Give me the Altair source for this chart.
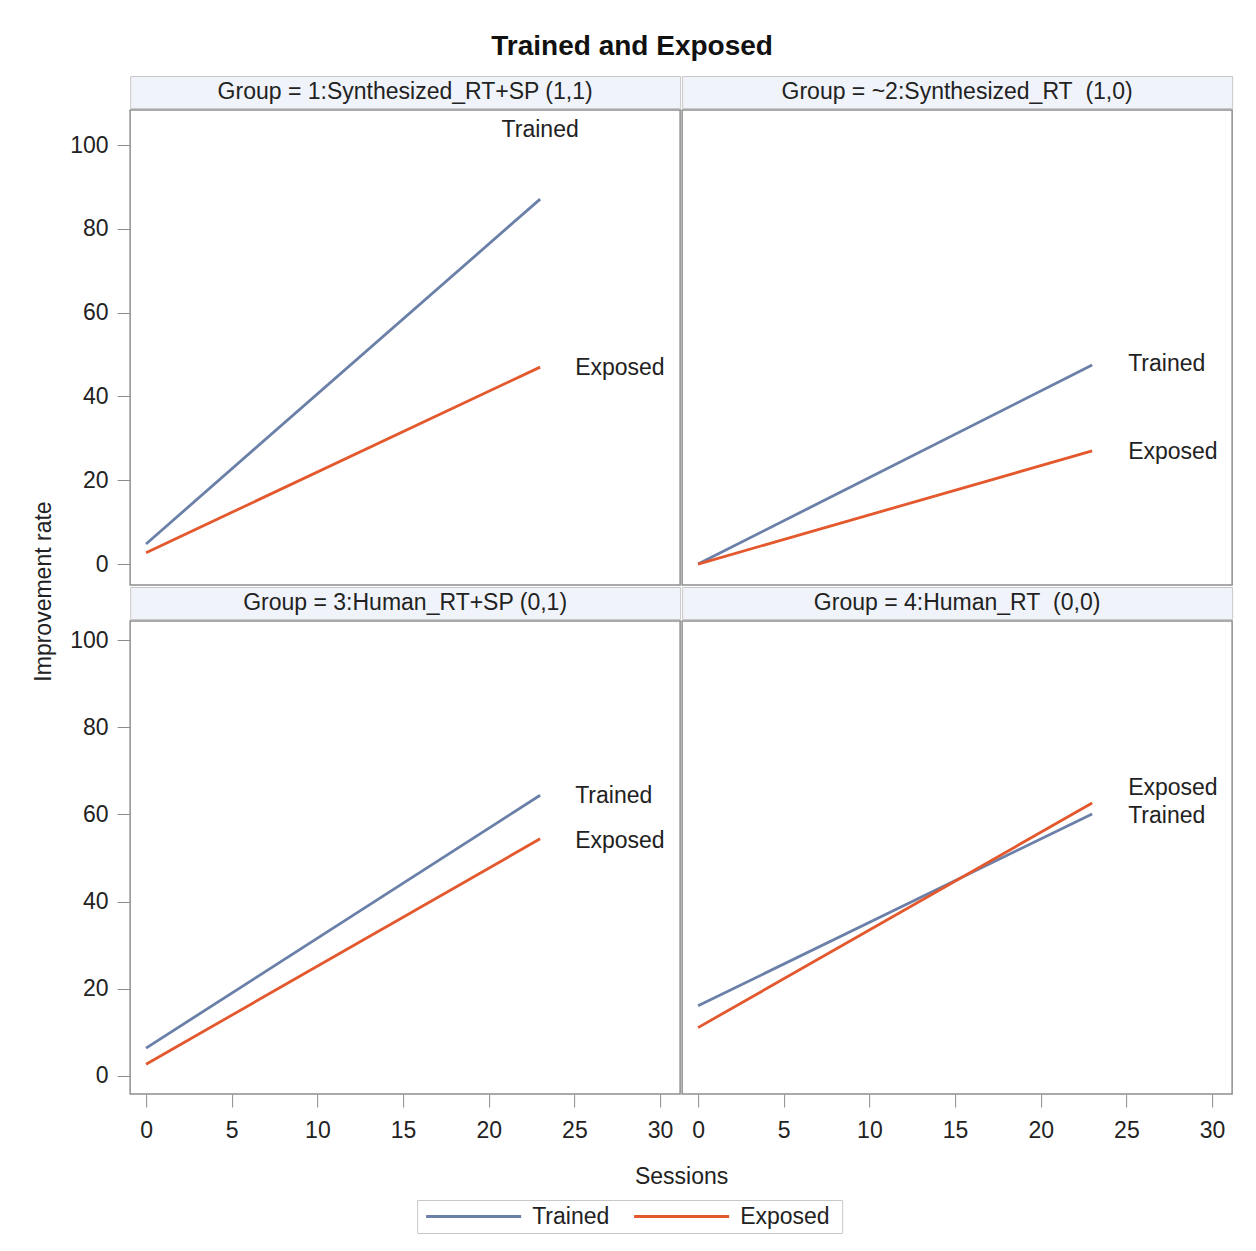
import altair as alt
import pandas as pd

# ---- data -------------------------------------------------------------
groups = [
    "1:Synthesized_RT+SP (1,1)",
    "~2:Synthesized_RT\u00a0 (1,0)",
    "3:Human_RT+SP (0,1)",
    "4:Human_RT\u00a0 (0,0)",
]
series = ["Trained", "Exposed"]
sessions = [0, 23]
trained_start = [4.8, 0.0, 6.4, 16.1]
trained_end = [87.1, 47.5, 64.4, 60.1]
exposed_start = [2.7, 0.0, 2.7, 11.1]
exposed_end = [47.0, 27.0, 54.4, 62.6]

x_ticks = [0, 5, 10, 15, 20, 25, 30]
y_ticks = [0, 20, 40, 60, 80, 100]

rows = []
for g, ts, te, es, ee in zip(groups, trained_start, trained_end, exposed_start, exposed_end):
    for s, (a, b) in zip(series, [(ts, te), (es, ee)]):
        rows.append({"group": g, "series": s, "session": sessions[0], "value": a})
        rows.append({"group": g, "series": s, "session": sessions[1], "value": b})
lines = pd.DataFrame(rows)

# ---- styling ----------------------------------------------------------
FONT = "Liberation Sans"
TEXT = "#222222"
COLORS = ["#6a80a8", "#e3582c"]
PANEL_W = 550
PANEL_H = [475, 473]
HEADER_H = 32
X_DOMAIN = [-0.93, 31.17]
Y_DOMAIN = [[-5.0, 108.36], [-4.13, 104.36]]

# curve-label placement per panel: (align, dx, dy) for Trained / Exposed
label_style = [
    {"Trained": ("center", 0, -69), "Exposed": ("left", 35, 1)},
    {"Trained": ("left", 36, -1), "Exposed": ("left", 36, 1)},
    {"Trained": ("left", 35, 1), "Exposed": ("left", 35, 2)},
    {"Trained": ("left", 36, 2), "Exposed": ("left", 36, -15)},
]

panel_view = alt.ViewBackground(fill="white", stroke="#8f8f8f", strokeWidth=1.5)
header_view = alt.ViewBackground(fill="#f0f4fa", stroke="#c8c8c8", strokeWidth=1)
blank_view = alt.ViewBackground(fill="white", stroke="white", strokeWidth=0)


def x_enc(i):
    bottom = i >= 2
    if bottom:
        kw = dict(values=x_ticks, labelFlush=False, labelPadding=12, title=None)
        if i == 2:
            kw.update(title="Sessions", titleX=PANEL_W + 1, titleY=82,
                      titleAlign="center", titleBaseline="middle")
        axis = alt.Axis(**kw)
    else:
        axis = None
    return alt.X("session:Q", scale=alt.Scale(domain=X_DOMAIN, nice=False, zero=False), axis=axis)


def y_enc(i):
    row = i // 2
    left = i % 2 == 0
    if left:
        kw = dict(values=y_ticks, labelFlush=False, labelPadding=9, title=None)
        if i == 2:
            kw.update(title="Improvement rate", titleX=-87, titleY=-30,
                      titleAngle=270, titleAlign="center", titleBaseline="middle")
        axis = alt.Axis(**kw)
    else:
        axis = None
    return alt.Y("value:Q", scale=alt.Scale(domain=Y_DOMAIN[row], nice=False, zero=False), axis=axis)


color_enc = alt.Color("series:N", scale=alt.Scale(domain=series, range=COLORS), legend=None)


def panel(i):
    d = lines[lines.group == groups[i]]
    layers = [
        alt.Chart(d).mark_line(strokeWidth=2.8).encode(
            x=x_enc(i), y=y_enc(i), color=color_enc, detail="series:N"
        )
    ]
    ends = d[d.session == sessions[1]]
    for s in series:
        align, dx, dy = label_style[i][s]
        layers.append(
            alt.Chart(ends[ends.series == s]).mark_text(
                align=align, baseline="middle", dx=dx, dy=dy,
                fontSize=23, color=TEXT,
            ).encode(x=x_enc(i), y=y_enc(i), text="series:N")
        )
    return alt.layer(*layers).properties(
        width=PANEL_W, height=PANEL_H[i // 2], view=panel_view
    )


def header(i):
    df = pd.DataFrame({"label": ["Group = " + groups[i]]})
    return alt.Chart(df).mark_text(fontSize=23, color=TEXT, baseline="middle").encode(
        x=alt.value(PANEL_W / 2), y=alt.value(HEADER_H / 2), text="label:N"
    ).properties(width=PANEL_W, height=HEADER_H, view=header_view)


grid = alt.concat(
    header(0), header(1), panel(0), panel(1),
    header(2), header(3), panel(2), panel(3),
    columns=2, spacing=2, bounds="flush",
)

# legend strip drawn from the series list
legend_df = pd.DataFrame({"series": series, "slot": list(range(len(series)))})
leg_x = alt.X("slot:Q", scale=alt.Scale(domain=[0, 2], range=[9, 425]), axis=None)
legend_rules = alt.Chart(legend_df).mark_rule(strokeWidth=2.8, x2Offset=95).encode(
    x=leg_x, x2="slot:Q", y=alt.value(16.5), color=color_enc
)
legend_text = alt.Chart(legend_df).mark_text(
    align="left", baseline="middle", dx=106, fontSize=23, color=TEXT
).encode(x=leg_x, y=alt.value(17), text="series:N")
legend_box = alt.layer(legend_rules, legend_text).properties(
    width=425, height=33,
    view=alt.ViewBackground(fill="white", stroke="#c8c8c8", strokeWidth=1),
)
# empty filler to the right so the centred legend sits under the whole figure
filler = alt.Chart(legend_df).mark_point(opacity=0).encode(
    x=alt.X("slot:Q", axis=None), y=alt.value(0)
).properties(width=97, height=33, view=blank_view)
legend = alt.hconcat(legend_box, filler, spacing=0)

chart = alt.vconcat(grid, legend, spacing=8, center=True).properties(
    title=alt.Title("Trained and Exposed", fontSize=28, fontWeight="bold",
                    anchor="middle", offset=15, color="#111111"),
    padding={"left": 31, "top": 32, "right": 22, "bottom": 18},
    background="white",
).configure(font=FONT).configure_axis(
    labelFont=FONT, labelFontSize=23, labelColor=TEXT,
    titleFont=FONT, titleFontSize=23, titleFontWeight="normal", titleColor=TEXT,
    tickColor="#8c8c8c", tickSize=13, tickWidth=1, domain=False, grid=False,
).configure_title(font=FONT)

chart.save("out.html", embed_options={"renderer": "svg", "actions": False})
